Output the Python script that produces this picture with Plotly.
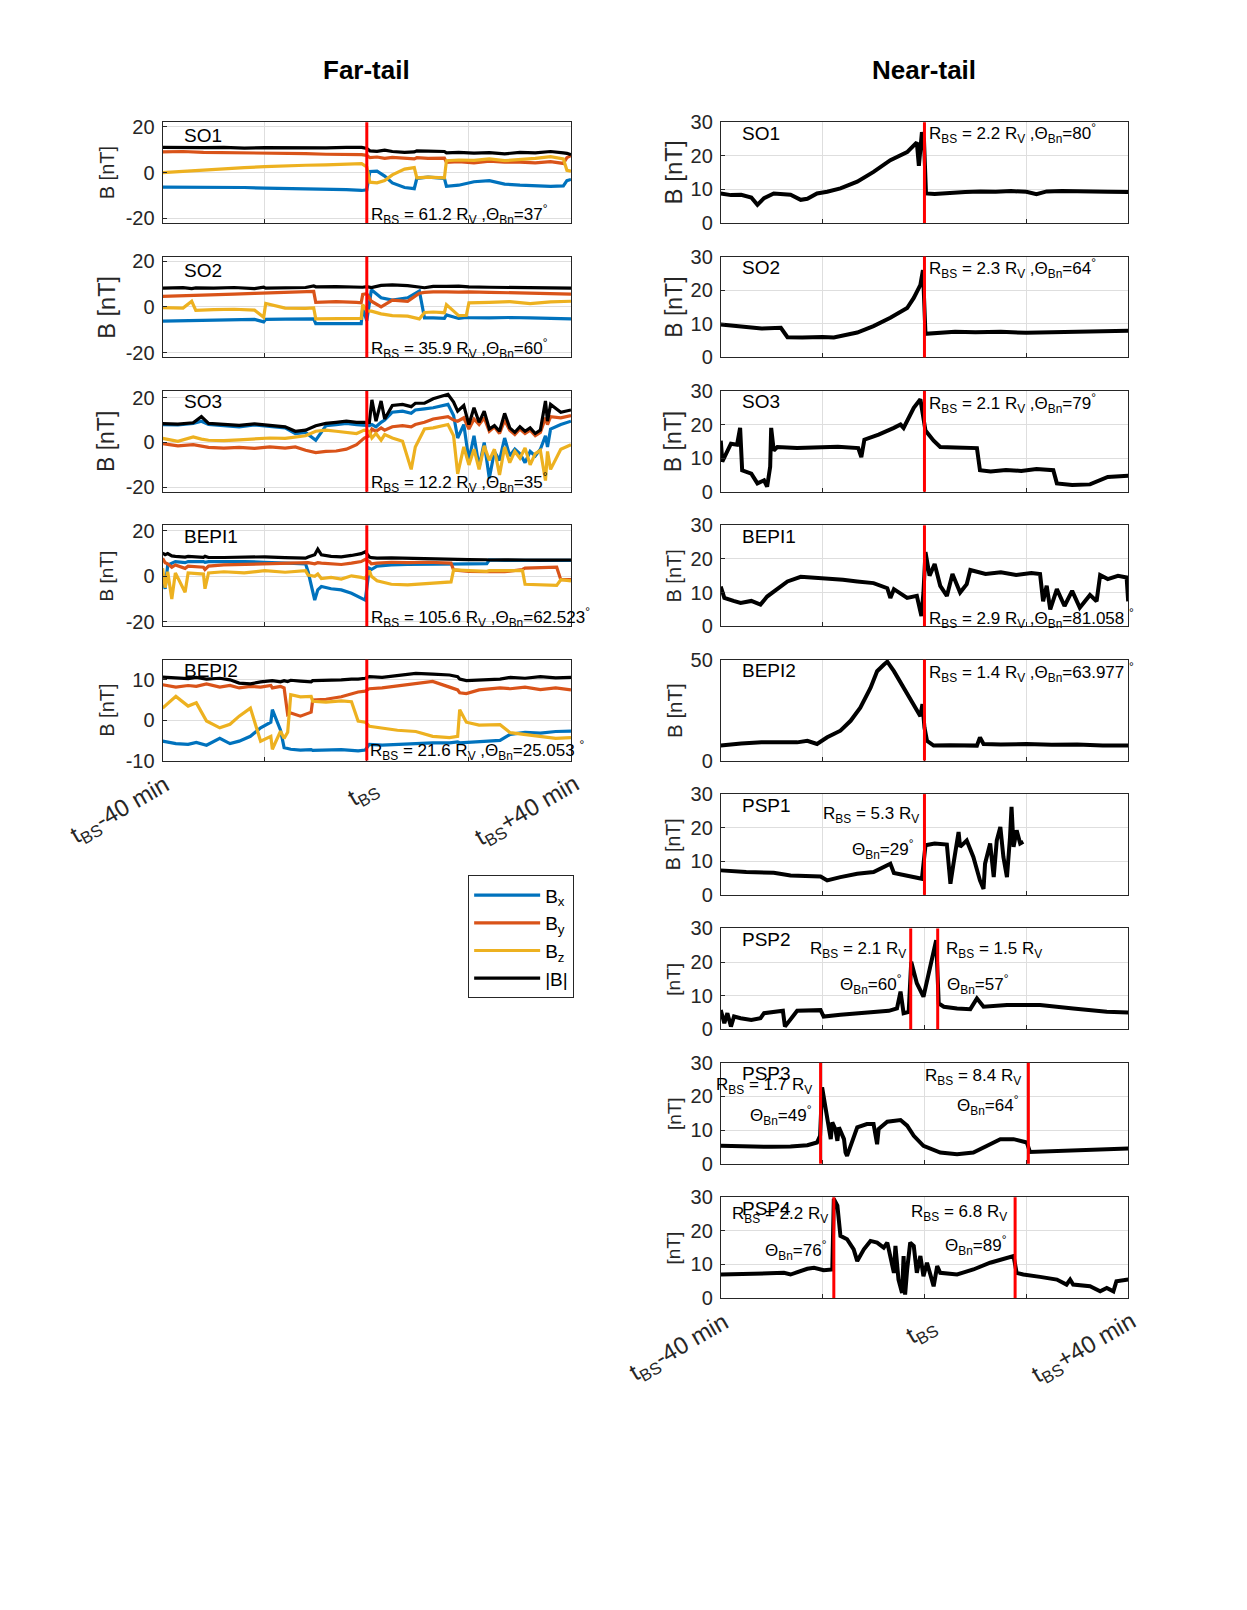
import plotly.graph_objects as go

W, H = 1247, 1610
FONT = "Liberation Sans, Arial, Helvetica, sans-serif"
AX = "#262626"
GRID = "#dedede"
C_BX, C_BY, C_BZ, C_B = "#0072BD", "#D95319", "#EDB120", "#000000"

# ---------------- far-tail crossings (Bx, By, Bz, |B|) ----------------
t_so1_far = [-40, -36, -32, -28, -24, -20, -16, -12, -8, -4, -1, 0, 0.6, 2, 3.5, 5, 7.4, 9.3, 9.8, 12,
             15.2, 15.6, 18, 21, 24, 27, 30, 33, 36, 38.5, 39.2, 40]
b_so1_far = [11, 10.8, 10.9, 11, 10.7, 10.9, 10.8, 10.6, 10.8, 11, 11, 10.5, 9.5, 9.3, 9.8, 9.2, 8.8, 9, 9.5, 9.4,
             9.2, 8.6, 8.8, 8.5, 8.7, 8.2, 8.8, 8.6, 9.2, 8.6, 8.4, 7.8]
by_so1_far = [9, 9.2, 8.8, 8.7, 8.8, 8.5, 8.4, 8.3, 8.0, 8.0, 7.8, 7.5, 6.5, 6.8, 6.2, 6.6, 6.4, 6.0, 6.5, 6.2,
              6.3, 4.5, 4.8, 4.2, 5, 4.5, 4.6, 4.2, 4.8, 4.0, 6.5, 7.5]
bz_so1_far = [0, 0.6, 1.2, 1.7, 2.2, 2.6, 3.0, 3.2, 3.4, 3.8, 3.9, 2.5, -4.2, -4.5, -3.5, -1.0, 1.5, 2.2, -2.3, -2.0,
              -2.3, 5.2, 5.5, 5.3, 6, 5.2, 5.6, 6.2, 7.0, 6.0, 1.0, 0.6]
bx_so1_far = [-6.3, -6.3, -6.5, -6.4, -6.5, -6.8, -6.9, -7.0, -7.2, -7.4, -7.8, -7.5, 0.5, 0.6, -1.5, -4.5, -6.5, -7.0,
              -2.5, -2.0, -2.5, -6.0, -5.5, -4.0, -3.5, -5.0, -5.5, -5.8, -6.0, -5.8, -3.5, -3]

t_so2_far = [-40, -36, -34.3, -33.5, -30, -26, -22, -20.2, -19.8, -16, -12, -10.4, -10, -6, -2, -1.1, -0.8, 0, 0.9,
             2.8, 5, 8, 10.3, 11.3, 13, 15.2, 15.6, 18, 19.5, 20, 24, 28, 32, 36, 40]
b_so2_far = [8.2, 8.4, 8.0, 8.3, 8.2, 8.5, 8.0, 8.6, 8.2, 8.4, 8.5, 9.2, 8.8, 8.9, 8.8, 8.5, 8.6, 8.9, 8.5, 9.4,
             9.6, 9.3, 8.5, 8.4, 9.0, 9.2, 9.0, 9.1, 8.7, 8.8, 8.6, 8.5, 8.6, 8.4, 8.2]
by_so2_far = [4.6, 4.8, 5.0, 5.2, 5.3, 5.6, 5.9, 6.0, 6.1, 6.4, 6.6, 6.8, 2.0, 2.3, 2.0, 1.8, 5.5, 5.8, 2.5, 0,
              3, 2.5, 6.0, 6.4, 6.6, 6.8, 6.6, 6.5, 6.7, 6.6, 6.4, 6.2, 6.1, 5.8, 5.6]
bz_so2_far = [-0.3, -0.5, 2.5, -1.5, -1.2, -1.0, -1.4, -4.5, 1.5, -0.5, -0.6, -0.4, -5.2, -5.0, -5.1, -5.0, 1.0, -1.7,
              -1.8, -3, -3.8, -4.0, -5.2, -2.4, -2.2, -2.5, 1.0, -3.8, -3.6, 1.8, 2.0, 2.3, 1.5, 2.2, 2.5]
bx_so2_far = [-6.2, -6.0, -5.8, -5.9, -5.7, -5.5, -5.4, -6.5, -5.4, -5.3, -5.2, -5.2, -7.3, -7.2, -7.1, -7.3, -0.5,
              -6.0, 7.5, 4, 3, 4, 7, -4.8, -4.8, -5.0, -3.5, -5.0, -4.6, -4.7, -4.8, -4.6, -4.8, -5.0, -5.2]

t_so3_far = [-40, -37, -34, -32.4, -31, -28, -25, -22, -19, -16, -14, -12, -10, -8, -6, -4, -2, -0.5, 0.5, 1,
             1.8, 2.8, 3.5, 5, 7, 8.7, 9.5, 11.3, 13, 15.9, 17, 17.8, 19, 20, 21, 22, 23, 24, 25, 26,
             27, 28, 29, 30, 31, 32, 33, 34, 35, 35.4, 36, 38, 40]
b_so3_far = [8.4, 8.2, 8.8, 11.5, 8.5, 8.0, 7.6, 8.3, 7.5, 7.0, 5.0, 5.5, 7.5, 8.5, 9.0, 9.5, 9.0, 9.2, 9.0, 19.0,
             9.5, 18.5, 10.5, 16.5, 17.0, 16.0, 17.5, 17.5, 19.5, 21.5, 18.0, 14.0, 16.5, 8.0, 15.5, 9.0, 14.0, 6.0,
             7.5, 5.0, 13.0, 6.5, 4.5, 7.0, 5.0, 6.5, 4.0, 5.5, 18.5, 9.5, 17.0, 13.5, 14.5]
by_so3_far = [-0.5, -1.5, -1.0, -1.8, -2.2, -2.5, -2.2, -2.6, -2.0, -2.5, -2.0, -3.5, -4.5, -4.0, -3.8, -3.0, -1.0,
              2.0, 3.0, 6.0, 5.0, 6.5, 5.5, 7.0, 7.5, 7.0, 8.0, 9.0, 10.5, 11.5, 10.0, 9.5, 11.0, 6.0, 10.5, 8.0,
              11.0, 5.0, 7.0, 4.0, 10.0, 5.5, 3.5, 6.0, 4.0, 5.5, 3.0, 4.5, 11.0, 8.0, 11.5, 11.0, 12.0]
bz_so3_far = [1.8, 0.5, 2.5, 1.5, 1.0, 0.8, 1.2, 1.5, 2.0, 1.8, 2.5, 3.0, 5.0, 5.5, 5.0, 4.5, 4.0, 5.5, 5.0, 2.0,
              4.0, 1.0, 3.5, 2.0, 0.5, -12.0, -2.0, 6.0, 6.5, 8.0, 3.0, -14.0, -2.0, -10.0, -3.0, -12.0, -1.5,
              -8.0, -3.0, -14.5, -2.0, -9.0, -4.0, -7.0, -2.5, -10.0, -5.0, -3.5, -17.0, -4.0, -12.0, -3.0, -1.0]
bx_so3_far = [8.0, 7.8, 8.5, 9.5, 8.0, 7.5, 7.0, 7.8, 7.0, 6.5, 4.0, 4.5, 1.0, 7.5, 8.0, 8.5, 8.0, 7.5, 7.5, 8.0,
              7.0, 9.0, 10.0, 13.5, 14.0, 13.0, 14.5, 15.0, 15.5, 17.0, 12.0, 2.0, 8.0, -8.0, 3.0, -11.0, 0.0,
              -16.0, -4.0, -8.0, 2.0, -6.0, -3.0, -5.0, -9.0, -4.0, -6.0, -3.0, 3.0, -2.0, 6.0, 8.0, 9.5]

t_bepi1_far = [-40, -39.5, -39, -38.2, -37.5, -35.6, -35, -32, -31.7, -31, -28, -24, -20, -16, -12, -11.5, -10.2,
               -9.6, -8.9, -7, -5, -3, -1.1, -0.3, 0.5, 0.9, 2, 4.8, 8, 12, 16.5, 17, 20, 23.5, 24, 27, 30.5,
               31, 34, 37.2, 38, 40]
b_bepi1_far = [10.3, 9.5, 10.0, 9.0, 8.8, 8.5, 8.8, 8.4, 8.8, 8.3, 8.3, 8.5, 8.6, 8.2, 8.0, 8.5, 9.5, 12.0, 9.5,
               8.8, 8.6, 9.2, 10.0, 10.8, 8.5, 8.2, 8.0, 8.1, 7.9, 7.8, 7.6, 7.5, 7.4, 7.3, 7.2, 7.3, 7.4, 7.2,
               7.1, 7.2, 7.0, 7.2]
by_bepi1_far = [8.0, 6.0, 5.5, 4.0, 5.0, 3.5, 4.5, 4.0, 3.0, 4.5, 5.0, 5.2, 5.6, 5.5, 5.8, 6.0, 5.5, 6.0, 5.8, 5.5,
                5.2, 5.8, 6.5, 7.5, 6.5, 5.5, 5.8, 6.2, 6.0, 6.2, 5.8, 2.8, 2.2, 2.0, 2.2, 2.0, 3.0, 3.6, 3.8,
                4.0, -1.5, -1.5]
bz_bepi1_far = [3.6, -5.0, 2.0, -10.0, 1.5, -7.0, 1.5, 1.0, -5.5, 1.5, 2.0, 1.5, 2.5, 1.8, 2.5, 0.5, 0.0, 1.0,
                -1.0, -0.5, -1.2, 0.2, -0.5, -1.0, 2.5, 0.0, -2.0, -3.5, -3.8, -3.2, -2.5, 2.8, 2.5, 2.2, 2.5,
                2.4, 2.5, -3.5, -3.8, -4.0, -1.5, -2.0]
bx_bepi1_far = [-1.0, -5.5, 5.0, 6.0, 6.5, 6.0, 6.5, 6.5, 6.2, 6.5, 6.6, 6.5, 6.2, 6.0, 5.5, 2.0, -10.5, -6.0,
                -4.5, -5.5, -6.0, -7.5, -9.5, -10.5, 3.5, 3.0, 4.5, 5.0, 5.2, 5.4, 5.6, 5.5, 5.5, 5.6, 7.2, 7.0,
                7.0, 7.1, 7.0, 7.0, 6.8, 7.0]

t_bepi2_far = [-40, -37.4, -35, -33.4, -31.4, -28.8, -26.8, -25, -22.8, -20.8, -18.8, -18.5, -16.9, -16.2, -15.5,
               -14.9, -13, -10.9, -10.6, -8, -5, -3, -1.7, -0.3, 0.5, 3, 6, 9.6, 12.9, 16.2, 17.8, 18.2, 19.5,
               22, 26.1, 28.1, 31, 34, 37, 40]
b_bepi2_far = [10.7, 10.5, 10.3, 10.6, 10.2, 10.4, 10.0, 9.2, 9.0, 9.5, 9.6, 9.8, 9.5, 9.8, 9.6, 9.9, 9.7, 9.5,
               9.8, 9.8, 10.0, 10.2, 10.2, 10.4, 10.8, 10.6, 11.0, 11.6, 11.4, 11.2, 10.8, 10.2, 9.8, 10.0, 10.2,
               10.6, 10.4, 10.8, 10.5, 10.6]
by_bepi2_far = [8.8, 8.2, 8.6, 8.4, 9.0, 8.2, 8.6, 8.0, 8.4, 8.2, 8.6, 8.0, 8.4, 8.0, 1.4, 1.8, 1.0, 2.0, 5.0, 5.2,
                5.8, 6.5, 7.0, 7.2, 7.8, 8.0, 8.5, 9.2, 9.6, 8.2, 7.5, 6.8, 6.6, 7.5, 8.0, 7.8, 8.2, 7.6, 8.0, 7.5]
bz_bepi2_far = [3.0, 5.9, 3.5, 4.3, -0.2, -1.9, -1.0, 1.0, 3.0, -5.2, -4.0, -7.2, -2.7, -4.5, -3.0, 6.3, 5.8, 5.9,
                4.7, 4.5, 4.8, 4.6, -0.2, -0.5, -1.5, -2.0, -2.5, -2.8, -4.0, -4.3, -4.0, 2.6, -0.5, -1.2, -1.1,
                -3.1, -3.5, -4.0, -4.5, -4.3]
bx_bepi2_far = [-5.2, -5.8, -6.0, -5.5, -6.2, -4.5, -5.8, -5.2, -4.0, -1.9, -0.5, 2.6, -2.5, -6.8, -7.0, -7.2,
                -7.4, -7.3, -7.5, -7.4, -7.3, -7.5, -7.6, -7.4, -6.0, -6.2, -6.0, -5.8, -5.6, -5.6, -5.4, -5.6,
                -5.5, -5.2, -5.0, -3.5, -3.0, -3.2, -2.8, -2.7]

# ---------------- near-tail crossings (|B| only) ----------------
t_so1_near = [-40, -38, -36, -34, -32.8, -31.5, -29.6, -28, -26.3, -24.3, -23, -21.1, -19.1, -16.5, -13.2, -10,
              -6.7, -3.4, -1.5, -1.1, -0.5, -0.1, 0.3, 2, 5, 8, 11, 14, 17, 20, 22, 24, 27, 30, 33, 36, 40]
b_so1_near = [8.8, 8.3, 8.4, 7.6, 5.4, 7.4, 8.8, 8.5, 8.4, 6.9, 7.2, 8.8, 9.3, 10.3, 12.3, 15.2, 18.7, 21.1, 24.0,
              17.0, 27.0, 25.0, 8.8, 8.6, 9.0, 9.2, 9.4, 9.3, 9.5, 9.3, 8.6, 9.4, 9.5, 9.6, 9.4, 9.3, 9.2]

t_so2_near = [-40, -36, -32, -28.2, -26.9, -24, -20, -17.8, -16.5, -13.2, -10, -6.7, -3.4, -2.1, -0.8, -0.3, 0.2,
              3, 6, 10, 15, 20, 25, 30, 35, 40]
b_so2_near = [9.8, 9.2, 8.6, 8.8, 6.0, 5.9, 6.1, 5.9, 6.4, 7.4, 9.3, 11.8, 14.7, 17.7, 21.6, 26.0, 7.0, 7.2, 7.6,
              7.5, 7.6, 7.3, 7.5, 7.6, 7.9, 7.9]

t_so3_near = [-40, -39.7, -38, -36.8, -36.2, -35.8, -34, -32.8, -31.5, -30.9, -30.3, -30.1, -29.6, -28.9, -25, -21,
              -17, -13, -12.4, -11.8, -9, -6, -4.7, -4.1, -2.1, -0.8, 0.2, 1.8, 3.1, 6, 10.3, 10.9, 13, 16, 19,
              22, 25.3, 26, 29, 32.5, 36, 40]
b_so3_near = [15.2, 9.0, 14.3, 14.0, 19.0, 6.4, 5.4, 2.5, 3.4, 1.5, 7.4, 19.0, 12.3, 13.3, 13.0, 13.2, 13.4, 13.0,
              10.3, 15.5, 17.0, 19.0, 20.0, 19.0, 25.0, 27.5, 18.2, 15.2, 13.3, 13.2, 13.0, 6.4, 6.0, 6.5, 6.2,
              6.8, 6.4, 2.5, 2.0, 2.2, 4.4, 4.8]

t_bepi1_near = [-40, -39.3, -37.5, -36.1, -34, -32.2, -30.9, -29.6, -26.9, -24.3, -19.8, -16, -13.2, -10, -7.3,
                -6.7, -6, -3.4, -1.5, -0.6, -0.2, 0.2, 1, 2, 3.1, 4.4, 5.5, 7, 8.3, 9, 12, 15, 18, 21, 22.7, 23.3,
                24, 24.7, 26, 27.5, 29, 30.5, 32.5, 33.8, 34.5, 36, 38, 39.7, 40]
b_bepi1_near = [11.8, 8.4, 7.5, 6.9, 7.5, 6.4, 8.8, 10.3, 13.3, 14.7, 14.3, 13.8, 13.3, 12.8, 11.3, 8.4, 11.0,
                8.4, 9.0, 3.0, 10.0, 22.0, 15.0, 18.5, 12.0, 9.0, 15.5, 10.0, 12.5, 16.7, 15.5, 16.0, 15.2, 15.8,
                15.5, 7.4, 12.0, 5.0, 11.0, 6.0, 10.5, 5.5, 9.3, 7.4, 15.2, 14.0, 15.0, 14.5, 7.4]

t_bepi2_near = [-40, -36, -32, -28, -25, -23, -21.1, -19.1, -16.5, -14.5, -12.6, -10.6, -9.3, -8, -7.3, -6, -4.1,
                -2.1, -0.8, -0.4, 0, 0.5, 1.8, 5, 8, 10.3, 10.9, 11.6, 15, 20, 25, 30, 35, 40]
b_bepi2_near = [7.5, 8.5, 9.0, 9.2, 9.0, 9.8, 8.2, 11.5, 14.8, 19.7, 26.2, 36.0, 44.3, 47.5, 49.0, 44.3, 36.0,
                27.9, 22.0, 28.0, 16.4, 9.8, 7.4, 7.6, 7.5, 7.4, 11.5, 8.2, 8.0, 8.2, 7.8, 8.0, 7.5, 7.4]

t_psp1 = [-40, -35, -29.6, -26.3, -20.4, -19.1, -16.5, -13.2, -10, -6.7, -6, -3.4, -0.5, 0.2, 2, 4.4, 4.7, 5.1,
          5.7, 6.7, 7, 8.3, 9.6, 10.3, 10.9, 11.6, 11.9, 12.9, 13.6, 14.2, 14.9, 15.5, 16.2, 16.8, 17.1, 17.5,
          18.1, 18.8, 19.4]
b_psp1 = [7.3, 6.8, 6.6, 5.8, 5.5, 4.3, 5.3, 6.3, 6.8, 9.3, 6.5, 5.8, 4.8, 14.8, 15.3, 15.0, 8.3, 3.3, 9.3, 18.7,
          14.3, 16.2, 11.3, 7.3, 4.3, 1.8, 9.3, 15.3, 5.3, 16.2, 20.2, 11.3, 5.3, 17.2, 26.2, 14.3, 19.2, 15.3, 15.8]

t_psp2 = [-40, -39.3, -38.7, -38, -37.4, -36.1, -34, -32.2, -31.5, -29, -27.8, -27.4, -25, -20.4, -19.8, -16.5,
          -13, -10, -7, -5.4, -4.7, -4.1, -3.1, -2.6, -1.5, -0.2, 0.5, 1.1, 1.8, 2.3, 2.8, 3.8, 6.4, 9, 10.3,
          11.6, 16.2, 22.7, 29.2, 35.8, 40]
b_psp2 = [5.7, 1.8, 4.8, 0.8, 3.8, 3.3, 2.8, 3.3, 4.8, 5.2, 5.5, 0.8, 5.5, 5.7, 3.8, 4.3, 4.8, 5.2, 5.5, 6.2,
          11.2, 4.8, 5.2, 20.1, 13.7, 9.7, 14.7, 17.6, 23.6, 26.5, 7.7, 6.7, 6.2, 6.0, 9.2, 6.7, 7.2, 7.2, 6.2,
          5.2, 5.0]

t_psp3 = [-40, -35, -30, -26.3, -23, -21.1, -20.5, -20.1, -19.8, -19.1, -18.4, -18.1, -17.5, -17.1, -16.8, -15.8,
          -15.5, -15.2, -14.5, -13.2, -11.3, -10, -9.3, -9, -7.3, -4.7, -3.4, -2.1, -0.2, 3.1, 6.4, 9.6, 12.9,
          14.9, 17.5, 20.1, 20.7, 26, 32.5, 40]
b_psp3 = [5.3, 5.1, 5.0, 5.1, 5.5, 6.3, 8.3, 22.7, 20.2, 13.3, 7.3, 12.3, 10.3, 6.8, 10.8, 7.3, 3.3, 2.3, 5.3,
          10.8, 11.8, 11.8, 5.8, 10.3, 12.5, 13.0, 11.3, 8.3, 5.3, 3.3, 2.8, 3.3, 5.8, 7.3, 7.3, 6.3, 3.5, 3.8,
          4.1, 4.5]

t_psp4 = [-40, -35, -29.6, -27.6, -26.3, -23, -21.7, -19.8, -18.1, -17.8, -17.1, -16.5, -15.2, -13.9, -13.2,
          -11.9, -10.6, -9.3, -8, -7.3, -6, -5.7, -5.1, -4.4, -4.1, -3.8, -3.4, -2.8, -2.1, -1.5, -0.8, -0.2,
          0.5, 1.8, 2.5, 3.1, 6.4, 9.6, 12.9, 16.2, 17.5, 18.1, 19.4, 22.7, 26, 27.9, 28.6, 29.2, 32.5, 34.5,
          35.8, 37.1, 37.7, 40]
b_psp4 = [7.0, 7.2, 7.2, 7.5, 7.0, 8.7, 9.0, 8.3, 8.5, 29.5, 27.5, 18.5, 17.5, 14.5, 11.0, 14.5, 17.0, 16.5, 15.0,
          16.5, 7.5, 15.5, 5.5, 1.5, 12.5, 1.0, 8.5, 16.5, 15.5, 7.5, 12.5, 6.5, 10.5, 3.5, 9.5, 7.5, 7.0, 8.5,
          10.5, 12.0, 12.5, 7.5, 7.0, 6.3, 5.5, 4.0, 5.5, 4.0, 3.5, 2.0, 3.0, 2.0, 5.0, 5.5]

# bow shock crossing times (min from t_BS)
bs_far = [[0], [0], [0], [0], [0]]
bs_near = [[0], [0], [0], [0], [0], [0], [-2.7, 2.6], [-20.4, 20.4], [-17.8, 17.8]]

far_names = ["SO1", "SO2", "SO3", "BEPI1", "BEPI2"]
near_names = ["SO1", "SO2", "SO3", "BEPI1", "BEPI2", "PSP1", "PSP2", "PSP3", "PSP4"]

far_data = [
    (t_so1_far, bx_so1_far, by_so1_far, bz_so1_far, b_so1_far),
    (t_so2_far, bx_so2_far, by_so2_far, bz_so2_far, b_so2_far),
    (t_so3_far, bx_so3_far, by_so3_far, bz_so3_far, b_so3_far),
    (t_bepi1_far, bx_bepi1_far, by_bepi1_far, bz_bepi1_far, b_bepi1_far),
    (t_bepi2_far, bx_bepi2_far, by_bepi2_far, bz_bepi2_far, b_bepi2_far),
]
near_data = [
    (t_so1_near, b_so1_near), (t_so2_near, b_so2_near), (t_so3_near, b_so3_near),
    (t_bepi1_near, b_bepi1_near), (t_bepi2_near, b_bepi2_near),
    (t_psp1, b_psp1), (t_psp2, b_psp2), (t_psp3, b_psp3), (t_psp4, b_psp4),
]

for d in far_data + near_data:
    assert all(len(s) == len(d[0]) for s in d), d[0][:3]

far_yrange = [[-22, 22], [-22, 22], [-22, 23], [-22, 22.5], [-10, 15]]
far_yticks = [[-20, 0, 20]] * 4 + [[-10, 0, 10]]
near_yrange = [[0, 30]] * 4 + [[0, 50]] + [[0, 30]] * 4
near_yticks = [[0, 10, 20, 30]] * 4 + [[0, 50]] + [[0, 10, 20, 30]] * 4
far_ylab = [("B [nT]", 20), ("B [nT]", 23.5), ("B [nT]", 23), ("B [nT]", 19), ("B [nT]", 20)]
near_ylab = [("B [nT]", 24), ("B [nT]", 23), ("B [nT]", 23), ("B [nT]", 20), ("B [nT]", 20.5),
             ("B [nT]", 19.5), ("[nT]", 19), ("[nT]", 19), ("[nT]", 19)]


# page geometry measured on the reference, mapped to figure pixels
def gx(p):
    return 0.9985 * p - 6.15


def gy(p):
    return 1.0122 * p - 17.57


COLS = [(161, 570), (720, 1128)]
TOP0, PITCH, PH = 120.7, 134.6, 101


def px_x(p):
    return gx(p) / W


def px_y(p):
    return 1 - gy(p) / H


def rbs(r):
    return f"R<sub>BS</sub> = {r} R<sub>V</sub>"


def theta(a, gap=""):
    return f"Θ<sub>Bn</sub>={a}{gap}<sup>°</sup>"


fig = go.Figure()
layout = dict(
    width=W, height=H, margin=dict(l=0, r=0, t=0, b=0, pad=0),
    paper_bgcolor="white", plot_bgcolor="white",
    font=dict(family=FONT, color=AX),
    showlegend=True,
    legend=dict(x=px_x(467), y=px_y(875), xanchor="left", yanchor="top",
                bordercolor=AX, borderwidth=1, bgcolor="white",
                font=dict(family=FONT, size=19, color="black"),
                tracegroupgap=14, itemwidth=66, traceorder="normal"),
)
annotations = []
shapes = []

panels = [("far", k) for k in range(5)] + [("near", k) for k in range(9)]

for i, (side, k) in enumerate(panels, start=1):
    xs = "" if i == 1 else str(i)
    col = COLS[0] if side == "far" else COLS[1]
    top = TOP0 + PITCH * k
    bot = top + PH
    yr = far_yrange[k] if side == "far" else near_yrange[k]
    yt = far_yticks[k] if side == "far" else near_yticks[k]
    layout["xaxis" + xs] = dict(
        domain=[px_x(col[0]), px_x(col[1])], anchor="y" + xs, range=[-40, 40],
        tickvals=[-40, -20, 0, 20, 40], showticklabels=False, ticks="inside", ticklen=4,
        tickcolor=AX, showgrid=True, gridcolor=GRID, gridwidth=1, showline=True, mirror=True,
        linecolor=AX, linewidth=1, zeroline=False)
    layout["yaxis" + xs] = dict(
        domain=[px_y(bot), px_y(top)], anchor="x" + xs, range=yr, tickvals=yt,
        ticktext=[str(v) for v in yt],
        ticks="inside", ticklen=4, tickcolor=AX, showgrid=True, gridcolor=GRID, gridwidth=1,
        showline=True, mirror=True, linecolor=AX, linewidth=1, zeroline=False,
        tickfont=dict(family=FONT, size=20, color=AX), ticklabelstandoff=3)

    if side == "far":
        t, bx, by, bz, b = far_data[k]
        for arr, col_c, nm in [(bx, C_BX, "B<sub>x</sub>"), (by, C_BY, "B<sub>y</sub>"),
                               (bz, C_BZ, "B<sub>z</sub>"), (b, C_B, "|B|")]:
            fig.add_trace(go.Scatter(
                x=t, y=arr, mode="lines", line=dict(color=col_c, width=3.2),
                name=nm, legendgroup=nm, showlegend=(k == 0),
                xaxis="x" + xs, yaxis="y" + xs))
    else:
        t, b = near_data[k]
        fig.add_trace(go.Scatter(
            x=t, y=b, mode="lines", line=dict(color=C_B, width=4), showlegend=False,
            xaxis="x" + xs, yaxis="y" + xs))

    for tb in (bs_far[k] if side == "far" else bs_near[k]):
        shapes.append(dict(type="line", xref="x" + xs, yref="y" + xs + " domain",
                           x0=tb, x1=tb, y0=0, y1=1, line=dict(color="#ff0000", width=3),
                           layer="above"))

    # panel name
    name = far_names[k] if side == "far" else near_names[k]
    off = 13.5 if (side == "far" and k < 2) else 11
    annotations.append(dict(text=name, x=px_x(col[0] + 19), y=px_y(top + off), xref="paper", yref="paper",
                            xanchor="left", yanchor="middle", showarrow=False,
                            font=dict(family=FONT, size=19, color="black")))
    # y label
    lab, sz = far_ylab[k] if side == "far" else near_ylab[k]
    annotations.append(dict(text=lab, x=px_x(105 if side == "far" else 673), y=px_y((top + bot) / 2),
                            xref="paper", yref="paper", xanchor="center", yanchor="middle",
                            textangle=-90, showarrow=False,
                            font=dict(family=FONT, size=sz, color=AX)))

# bow-shock parameter labels: (text, x px, y px, xanchor), measured on the reference
bs_labels = [
    (rbs(61.2) + " ," + theta(37), 368, 213, "left"),
    (rbs(35.9) + " ," + theta(60), 368, 347, "left"),
    (rbs(12.2) + " ," + theta(35), 368, 482, "left"),
    (rbs(105.6) + " ," + theta(62.523), 368, 617, "left"),
    (rbs(21.6) + " ," + theta(25.053, " "), 367, 750, "left"),
    (rbs(2.2) + " ," + theta(80), 927, 132, "left"),
    (rbs(2.3) + " ," + theta(64), 927, 267, "left"),
    (rbs(2.1) + " ," + theta(79), 927, 402, "left"),
    (rbs(2.9) + " ," + theta("81.058", " "), 927, 618, "left"),
    (rbs(1.4) + " ," + theta(63.977, " "), 927, 672, "left"),
    (rbs(5.3), 921, 815, "right"),
    (theta(29), 916, 849, "right"),
    (rbs(2.1), 908, 950, "right"),
    (theta(60), 904, 984, "right"),
    (rbs(1.5), 944, 950, "left"),
    (theta(57), 945, 984, "left"),
    (rbs(1.7), 813, 1086, "right"),
    (theta(49), 813, 1116, "right"),
    (rbs(8.4), 1023, 1077, "right"),
    (theta(64), 1021, 1106, "right"),
    (rbs(2.2), 829, 1215, "right"),
    (theta(76), 828, 1251, "right"),
    (rbs(6.8), 1009, 1213, "right"),
    (theta(89), 1009, 1246, "right"),
]
for txt, x, y, xa in bs_labels:
    annotations.append(dict(text=txt, x=px_x(x), y=px_y(y), xref="paper", yref="paper",
                            xanchor=xa, yanchor="middle", showarrow=False,
                            font=dict(family=FONT, size=17, color="black")))

# column titles
for txt, x in [("<b>Far-tail</b>", 365), ("<b>Near-tail</b>", 924)]:
    annotations.append(dict(text=txt, x=px_x(x), y=px_y(68), xref="paper", yref="paper",
                            xanchor="center", yanchor="middle", showarrow=False,
                            font=dict(family=FONT, size=26, color="black")))

# rotated time labels under the bottom axis of each column
tick_text = ["t<sub>BS</sub>-40 min", "t<sub>BS</sub>", "t<sub>BS</sub>+40 min"]
for axn, ybase in [("x5", TOP0 + 4 * PITCH + PH), ("x14", TOP0 + 8 * PITCH + PH)]:
    for val, txt, anc, dx, dy in zip([-40, 0, 40], tick_text, ["right", "center", "right"],
                                     [16, -3, 17], [7, 10, 6]):
        annotations.append(dict(text=txt, x=val, xref=axn, y=px_y(ybase + dy), yref="paper",
                                xanchor=anc, yanchor="top", xshift=dx, textangle=-30, showarrow=False,
                                font=dict(family=FONT, size=24, color=AX)))

layout["annotations"] = annotations
layout["shapes"] = shapes
fig.update_layout(**layout)
fig.write_html("out.html")
